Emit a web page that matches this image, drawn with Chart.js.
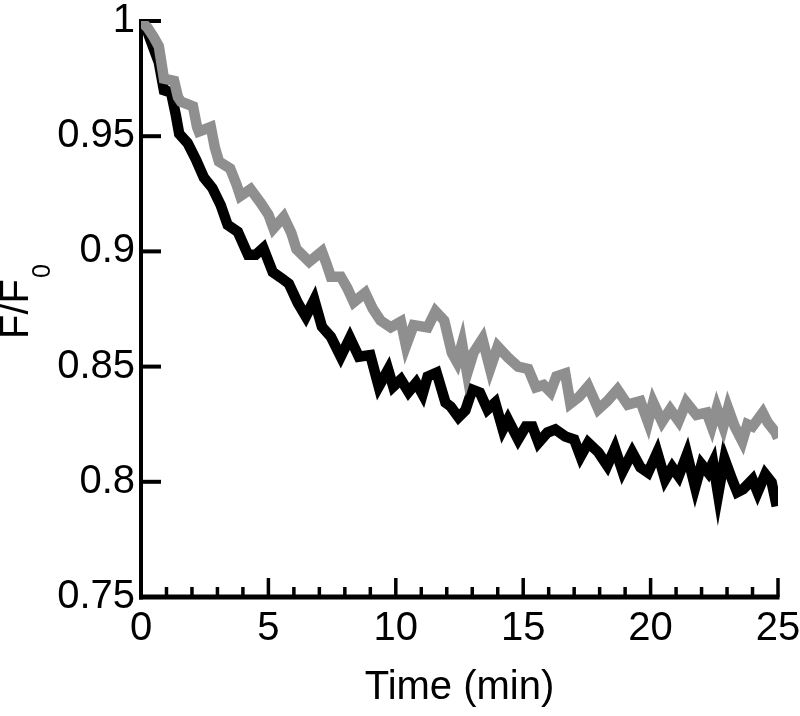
<!DOCTYPE html>
<html>
<head>
<meta charset="utf-8">
<title>F/F0 vs time</title>
<script src="https://cdn.jsdelivr.net/npm/chart.js@4.4.1/dist/chart.umd.min.js"></script>
<style>
    html, body { margin: 0; padding: 0; background: #fff; }
    canvas { display: block; }
</style>
</head>
<body>
<canvas id="decayChart" width="800" height="716"></canvas>
<script>
// Dados (tempo em min, F/F0)
const greyTime = [0, 0.26, 0.5, 0.7, 0.9, 1.3, 1.45, 1.57, 2.04, 2.2, 2.27, 2.74, 2.9, 3.06, 3.5, 3.75, 3.9, 4.3, 4.7,
    5.0, 5.2, 5.6, 5.9, 6.1, 6.6, 7.1, 7.3, 7.45, 7.84, 8.1, 8.35, 8.8, 9.1, 9.4, 9.8, 10.2, 10.4, 10.7, 11.25,
    11.56, 11.9, 12.2, 12.4, 12.6, 12.8, 13.05, 13.4, 13.7, 14.0, 14.4, 14.8, 15.2, 15.5, 15.8, 16.07, 16.3, 16.65,
    16.85, 17.2, 17.55, 17.95, 18.3, 18.7, 19.1, 19.6, 19.9, 20.1, 20.45, 20.77, 21.1, 21.4, 21.8, 22.2, 22.4,
    22.6, 22.85, 23.04, 23.3, 23.6, 23.8, 24.0, 24.4, 24.6, 24.9, 25.0];
const greyValues = [1.000, 0.997, 0.993, 0.989, 0.975, 0.974, 0.967, 0.965, 0.963, 0.954, 0.952, 0.954, 0.945,
    0.939, 0.936, 0.929, 0.924, 0.927, 0.921, 0.916, 0.910, 0.915, 0.908, 0.901, 0.8955, 0.900, 0.894, 0.889,
    0.889, 0.884, 0.878, 0.882, 0.875, 0.870, 0.867, 0.8695, 0.859, 0.868, 0.867, 0.874, 0.870, 0.856, 0.852,
    0.860, 0.847, 0.856, 0.862, 0.849, 0.8587, 0.854, 0.850, 0.849, 0.841, 0.842, 0.839, 0.8457, 0.847, 0.834,
    0.837, 0.8415, 0.8315, 0.835, 0.840, 0.8335, 0.835, 0.8258, 0.8345, 0.826, 0.8315, 0.8264, 0.8345, 0.829,
    0.830, 0.824, 0.832, 0.824, 0.832, 0.824, 0.8175, 0.825, 0.824, 0.830, 0.8257, 0.8215, 0.819];

const blackTime = [0, 0.2, 0.5, 0.7, 0.9, 1.18, 1.37, 1.5, 1.83, 2.15, 2.47, 2.8, 3.13, 3.4, 3.8, 4.2, 4.5, 4.8,
    5.17, 5.5, 5.8, 6.15, 6.47, 6.8, 7.1, 7.45, 7.84, 8.2, 8.55, 9.0, 9.33, 9.7, 9.9, 10.2, 10.5, 10.8, 11.05,
    11.25, 11.6, 11.95, 12.15, 12.46, 12.73, 13.0, 13.3, 13.6, 13.9, 14.2, 14.4, 14.8, 15.1, 15.36, 15.6, 15.95,
    16.26, 16.65, 17.0, 17.25, 17.55, 17.95, 18.3, 18.6, 18.9, 19.28, 19.6, 19.9, 20.26, 20.57, 20.85, 21.1,
    21.43, 21.75, 22.0, 22.26, 22.45, 22.65, 22.9, 23.2, 23.4, 23.63, 24.0, 24.2, 24.5, 24.75, 24.95];
const blackValues = [1.000, 0.997, 0.988, 0.982, 0.970, 0.969, 0.959, 0.951, 0.947, 0.940, 0.932, 0.9275, 0.920,
    0.9115, 0.9085, 0.8985, 0.8985, 0.9015, 0.891, 0.8885, 0.886, 0.8777, 0.8717, 0.879, 0.8673, 0.863, 0.8543,
    0.8625, 0.8543, 0.855, 0.8413, 0.8487, 0.8413, 0.8444, 0.839, 0.843, 0.838, 0.8457, 0.8474, 0.8344, 0.8327,
    0.828, 0.831, 0.840, 0.8387, 0.8314, 0.8344, 0.8227, 0.827, 0.8184, 0.824, 0.824, 0.817, 0.8214, 0.8227,
    0.8197, 0.8184, 0.811, 0.817, 0.8128, 0.807, 0.8145, 0.8045, 0.8128, 0.8063, 0.804, 0.8128, 0.801, 0.8063,
    0.8024, 0.812, 0.7976, 0.8076, 0.804, 0.8084, 0.7945, 0.810, 0.801, 0.7955, 0.7968, 0.801, 0.7955, 0.8033,
    0.7998, 0.7894];

const xRange = [0, 25];
const yRange = [0.75, 1.0];
const xMajorStep = 5;
const xMinorStep = 1;
const yStep = 0.05;

const FONT = '"Liberation Sans", Arial, Helvetica, sans-serif';

function toPoints(times, values) {
    return times.map((t, i) => ({ x: t, y: values[i] }));
}

// Eixos com marcas para dentro, como na figura original
const inwardAxesPlugin = {
    id: 'inwardAxes',
    beforeDatasetsDraw(chart) {
        const { ctx, chartArea: area, scales: { x, y } } = chart;
        const yTop = y.getPixelForValue(yRange[1]);
        const xEnd = x.getPixelForValue(xRange[1]);

        ctx.save();
        ctx.strokeStyle = '#000';
        ctx.lineCap = 'butt';

        // linhas dos eixos
        ctx.lineWidth = 4;
        ctx.beginPath();
        ctx.moveTo(area.left, yTop - 2);
        ctx.lineTo(area.left, area.bottom + 2.5);
        ctx.stroke();

        ctx.lineWidth = 5;
        ctx.beginPath();
        ctx.moveTo(area.left - 2, area.bottom);
        ctx.lineTo(xEnd + 1.5, area.bottom);
        ctx.stroke();

        // marcas do eixo x (maiores a cada 5 min, menores a cada 1 min)
        ctx.lineWidth = 3.5;
        for (let t = xRange[0]; t <= xRange[1]; t += xMinorStep) {
            const px = x.getPixelForValue(t);
            const len = (t % xMajorStep === 0) ? 19 : 10;
            ctx.beginPath();
            ctx.moveTo(px, area.bottom);
            ctx.lineTo(px, area.bottom - len);
            ctx.stroke();
        }

        // marcas do eixo y
        ctx.lineWidth = 4;
        y.ticks.forEach(tick => {
            const py = y.getPixelForValue(tick.value);
            ctx.beginPath();
            ctx.moveTo(area.left, py);
            ctx.lineTo(area.left + 20, py);
            ctx.stroke();
        });
        ctx.restore();
    },
    afterDraw(chart) {
        // subscrito "0" do título F/F0
        const { ctx, scales: { y } } = chart;
        const cy = (y.top + y.bottom) / 2;
        ctx.save();
        ctx.font = '40px ' + FONT;
        const w = ctx.measureText('F/F').width;
        ctx.translate(50, cy - w / 2 - 1);
        ctx.rotate(-Math.PI / 2);
        ctx.font = '25px ' + FONT;
        ctx.fillStyle = '#000';
        ctx.textAlign = 'left';
        ctx.textBaseline = 'alphabetic';
        ctx.fillText('0', 0, 0);
        ctx.restore();
    }
};

const ctx = document.getElementById('decayChart').getContext('2d');
Chart.defaults.font.family = FONT;
Chart.defaults.color = '#000';

new Chart(ctx, {
    type: 'line',
    data: {
        datasets: [
            {
                label: 'grey',
                data: toPoints(greyTime, greyValues),
                borderColor: '#8f8f8f',
                borderWidth: 10.5,
                borderJoinStyle: 'miter',
                borderCapStyle: 'butt',
                pointRadius: 0,
                tension: 0,
                fill: false
            },
            {
                label: 'black',
                data: toPoints(blackTime, blackValues),
                borderColor: '#000000',
                borderWidth: 10.5,
                borderJoinStyle: 'miter',
                borderCapStyle: 'butt',
                pointRadius: 0,
                tension: 0,
                fill: false
            }
        ]
    },
    options: {
        responsive: false,
        animation: false,
        layout: {
            padding: { top: 21, right: 22, left: 0, bottom: 0 }
        },
        plugins: {
            legend: { display: false },
            tooltip: { enabled: false }
        },
        scales: {
            x: {
                type: 'linear',
                min: xRange[0],
                max: xRange[1],
                grid: { display: false, drawTicks: false },
                border: { display: false },
                ticks: {
                    stepSize: xMajorStep,
                    maxRotation: 0,
                    padding: 8,
                    font: { size: 40, lineHeight: 1.2 }
                },
                title: {
                    display: true,
                    text: 'Time (min)',
                    font: { size: 40, lineHeight: 1.2 },
                    padding: { top: 0, bottom: 4 }
                },
                afterFit(scale) {
                    scale.height = 119;
                    scale.paddingLeft = 0;
                    scale.paddingRight = 0;
                }
            },
            y: {
                min: yRange[0],
                max: yRange[1],
                grid: { display: false, drawTicks: false },
                border: { display: false },
                ticks: {
                    stepSize: yStep,
                    padding: 6,
                    font: { size: 40, lineHeight: 1 },
                    callback: value => String(+value.toFixed(2))
                },
                title: {
                    display: true,
                    text: 'F/F',
                    font: { size: 40, lineHeight: 0.85 },
                    padding: 0
                },
                afterFit(scale) {
                    scale.width = 141;
                    scale.paddingTop = 0;
                    scale.paddingBottom = 0;
                }
            }
        }
    },
    plugins: [inwardAxesPlugin]
});
</script>
</body>
</html>
